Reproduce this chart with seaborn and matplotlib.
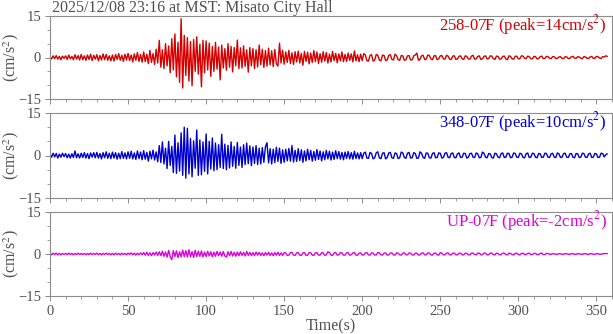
import numpy as np
import pandas as pd
import matplotlib
matplotlib.use("Agg")
import matplotlib.pyplot as plt
import seaborn as sns
from matplotlib.ticker import MultipleLocator

TITLE = "2025/12/08 23:16 at MST: Misato City Hall"
SAMPLE_INTERVAL = 1.0  # seconds between samples

channels = ["258-07F", "348-07F", "UP-07F"]
colors = ["#d40000", "#0000cc", "#dd00dd"]

# Acceleration records (cm/s^2), one sample per second
acc_258 = [
    0.3, -0.5, 0.6, -0.4, 0.7, -0.6, 0.4, -0.8, 0.5, -0.3,
    0.6, -0.7, 0.9, -0.5, 0.4, -0.8, 1.0, -0.6, 0.7, -0.9,
    1.1, -0.8, 0.6, -1.0, 0.9, -0.7, 1.2, -1.1, 0.8, -0.6,
    1.0, -1.2, 0.7, -0.9, 1.3, -0.8, 1.1, -1.0, 0.6, -1.2,
    0.9, -1.3, 1.1, -0.7, 1.4, -1.0, 0.8, -1.4, 1.2, -0.9,
    1.5, -1.1, 0.9, -1.6, 1.3, -1.0, 1.8, -1.4, 1.1, -1.7,
    2.0, -1.5, 1.2, -2.2, 2.6, -1.8, 1.4, -2.5, 3.0, -2.0,
    6.2, -3.5, 2.8, -4.0, 5.0, -3.0, 4.2, -5.5, 6.8, -4.5,
    8.5, -7.0, 5.5, -9.0, 14.0, -11.0, 8.0, -6.5, 7.2, -8.5,
    5.8, -10.2, 6.5, -5.0, 7.5, -6.0, 4.8, -10.6, 6.2, -5.5,
    6.0, -4.5, 5.2, -6.8, 4.0, -5.0, 5.5, -4.2, 3.8, -8.1,
    4.5, -3.8, 3.2, -4.6, 5.0, -3.5, 4.0, -5.2, 3.6, -3.0,
    6.3, -4.0, 3.5, -3.8, 4.2, -3.2, 2.8, -5.3, 3.6, -3.0,
    3.2, -4.0, 2.8, -3.4, 4.5, -2.6, 3.0, -3.6, 2.5, -3.1,
    3.4, -2.7, 2.4, -3.3, 2.9, -2.2, -3.1, 5.2, -2.0, 2.6,
    -2.4, 2.0, -1.8, 2.6, -2.2, 1.7, -2.5, 2.1, -1.6, 2.3,
    -2.0, 1.5, -2.8, 2.2, -1.4, 1.9, -2.3, 1.6, -1.8, 2.5,
    -1.5, 2.0, -2.2, 1.4, -1.7, 2.1, -1.3, 1.8, -2.0, 1.2,
    -1.6, 2.2, -1.1, 1.5, -1.9, 1.3, -1.2, 2.0, -1.5, 1.1,
    -1.4, 1.6, -1.0, 1.3, -1.6, 2.4, -1.2, 1.0, -1.5, 1.2,
    -1.1, 1.4, 0.9, -1.2, -1.3, 0.8, 1.0, -1.3, -0.9, 1.1,
    0.8, -1.0, -1.2, 0.9, 0.7, -1.1, -0.9, 0.8, 1.0, -0.7,
    -0.9, 1.2, 0.7, -0.8, -1.0, 0.7, 0.6, -1.0, -0.8, 0.6,
    0.7, -0.9, -0.8, 0.6, 0.9, 1.6, -1.0, -0.7, 0.6, 0.8,
    -0.7, -0.6, 0.9, 0.7, -0.5, -0.8, 0.6, 0.7, -0.8, -0.5,
    0.6, 0.7, -0.5, -0.6, 0.8, 0.5, -0.6, -0.7, 0.5, 0.6,
    -0.7, -0.5, 0.4, 0.6, -0.5, -0.7, 0.6, 0.4, -0.5, -0.6,
    0.5, 0.8, -0.6, -0.5, 0.4, 0.6, -0.7, -0.5, 0.4, 0.6,
    -0.5, -0.4, 0.6, 0.5, -0.4, -0.7, 0.5, 0.4, -0.6, -0.5,
    0.4, 0.5, -0.5, -0.8, 0.6, 0.4, -0.5, -0.6, 0.4, 0.5,
    -0.5, -0.4, 0.6, 0.5, -0.3, -0.4, 0.5, 0.3, -0.4, -0.5,
    0.4, 0.3, -0.5, -0.4, 0.3, 0.5, -0.4, -0.3, 0.4, 0.3,
    -0.3, -0.4, 0.3, 0.3, -0.4, -0.3, 0.2, 0.3, -0.3, -0.4,
    0.3, 0.2, -0.4, -0.3, 0.3, 0.4, -0.2, -0.3, 0.3, 0.2,
    -0.3, -0.4, 0.3, 0.2, -0.3, -0.3, 0.2, 0.4, -0.3, -0.3,
    0.4, 0.3, -0.2, -0.4, 0.3, 0.2, 0.6, 0.4,
]

acc_348 = [
    0.4, -0.6, 0.8, -0.5, 0.7, -0.9, 0.5, -0.6, 0.8, -0.4,
    0.7, -0.8, 0.5, -0.9, 0.6, -0.7, 1.6, -0.8, 0.6, -0.9,
    0.8, -0.7, 1.0, -0.9, 0.7, -1.1, 0.9, -0.6, 1.0, -0.8,
    1.1, -0.9, 0.7, -1.2, 1.0, -0.8, 1.3, -1.0, 0.8, -1.1,
    1.2, -0.9, 1.0, -1.3, 0.8, -1.1, 1.4, -1.0, 0.9, -1.2,
    1.3, -1.0, 1.5, -1.2, 0.9, -1.4, 1.6, -1.1, 1.2, -1.5,
    1.7, -1.3, 1.1, -2.0, 1.5, -1.2, 1.9, -1.6, 1.3, -2.2,
    3.5, -2.5, 4.8, -3.0, 2.6, -4.6, 5.0, -3.5, 3.2, -6.0,
    7.2, -6.3, 4.5, -5.5, 8.0, -7.0, 10.0, -8.0, 9.6, -6.5,
    6.0, -7.5, 5.2, -4.5, 9.0, -7.0, 5.5, -6.8, 4.8, -5.6,
    7.6, -6.5, 5.0, -4.8, 6.2, -5.4, 4.4, -5.0, 3.8, -4.2,
    7.5, -4.6, 4.0, -5.0, 3.6, -4.4, 4.8, -3.8, 3.2, -4.5,
    4.6, -3.5, 3.0, -4.2, 3.8, -3.2, 4.4, -2.9, 3.4, -3.6,
    3.0, -2.8, 3.5, -3.2, 2.6, -3.0, 2.8, -2.4, 3.1, 4.5,
    -2.6, 2.4, -3.0, 2.2, -2.5, 2.9, -2.1, 2.6, -2.8, 2.0,
    -2.4, 2.2, -1.9, 2.5, -2.0, 3.5, -2.3, 1.8, -2.1, 2.4,
    -1.8, 2.0, -2.4, 1.6, -1.9, 2.2, -1.5, 1.8, -2.0, 1.4,
    -1.7, 2.1, -1.4, 1.6, -1.9, 1.3, -1.5, 1.8, -1.2, 1.5,
    -1.6, 1.2, -1.4, 1.7, -1.1, 1.4, -1.3, 1.1, -1.5, 1.2,
    -1.0, 1.4, -1.2, 1.0, -1.3, 1.5, -1.1, 0.9, -1.2, 1.0,
    -1.1, 0.8, 1.2, -0.9, -1.0, 1.1, 0.7, -1.2, -0.8, 1.0,
    1.3, -0.9, -1.1, 0.8, 1.0, -1.2, -0.7, 0.9, 1.1, -0.8,
    -1.0, 0.9, 0.7, -1.1, -0.8, 1.2, 0.9, -0.7, -1.0, 0.8,
    1.1, -0.9, -0.8, 1.0, 0.7, -1.0, -0.9, 1.3, 0.8, -0.7,
    -1.0, 0.9, 0.8, -0.8, -0.9, 0.7, 1.0, -0.8, -0.7, 0.9,
    0.8, -0.9, -0.7, 0.8, 1.0, -0.6, -0.8, 0.7, 0.9, -0.7,
    -0.8, 0.6, 0.9, -0.7, -0.6, 0.8, 0.7, -0.9, -0.6, 0.7,
    0.8, -0.6, -0.7, 0.9, 0.6, -0.8, -0.7, 1.2, 0.8, -0.6,
    -0.8, 0.7, 0.6, -0.7, -0.9, 0.8, 0.6, -0.6, -0.8, 0.7,
    0.9, -0.7, -0.6, 0.8, 0.7, -0.8, -0.6, 0.9, 0.7, -0.6,
    -0.7, 0.8, 0.6, -0.7, -0.8, 0.6, 0.9, -0.7, -0.6, 0.8,
    0.7, -0.6, -0.8, 0.7, 0.6, -0.7, -0.6, 0.8, 0.7, -0.6,
    -0.7, 0.6, 0.8, -0.6, -0.7, 0.9, 0.6, -0.7, -0.6, 0.7,
    0.8, -0.6, -0.7, 0.6, 0.7, -0.6, -0.8, 0.7, 0.6, -0.7,
    -0.6, 0.8, 0.7, -0.6, -0.7, 0.6, 0.8, -0.7, -0.6, 0.7,
    0.6, -0.7, -0.6, 0.8, 0.7, -0.5, 0.3, 0.6,
]

acc_up = [
    0.2, -0.3, 0.3, -0.2, 0.3, -0.3, 0.2, -0.3, 0.2, -0.2,
    0.2, -0.2, 0.3, -0.2, 0.2, -0.3, 0.2, -0.2, 0.3, -0.2,
    0.2, -0.2, 0.2, -0.3, 0.2, -0.2, 0.3, -0.2, 0.2, -0.2,
    0.3, -0.2, 0.2, -0.3, 0.2, -0.2, 0.3, -0.2, 0.2, -0.3,
    0.2, -0.3, 0.3, -0.2, 0.2, -0.3, 0.3, -0.2, 0.2, -0.3,
    0.3, -0.2, 0.4, -0.3, 0.3, -0.4, 0.3, -0.3, 0.4, -0.3,
    0.5, -0.4, 0.6, -0.5, 0.4, -0.6, 0.5, -0.4, 0.7, -0.5,
    0.8, -0.6, 1.0, -0.8, 0.7, -1.1, 1.3, -1.0, -2.0, 1.2,
    -0.9, 1.1, -1.3, 0.8, -1.0, 1.4, -0.9, 1.2, -1.1, 1.5,
    -1.0, 0.8, -1.2, 1.3, -0.9, 1.0, -0.8, 1.1, -1.0, 0.7,
    -0.9, 1.0, -0.7, 0.8, -1.0, 0.6, -0.8, 0.9, -0.6, 0.7,
    -0.8, 0.9, -0.7, -1.1, 0.8, -0.6, 0.9, -0.7, 0.6, -0.8,
    0.7, -0.6, 0.8, -0.5, 0.6, -0.7, 0.9, -0.5, 0.6, -0.6,
    0.5, -0.6, 0.7, -0.4, 0.6, -0.5, 0.4, -0.6, 0.5, -0.4,
    0.6, -0.5, 0.4, -0.6, 0.5, -0.4, 0.6, -0.5, 0.4, -0.5,
    0.5, 0.4, -0.5, -0.4, 0.5, 0.6, -0.4, -0.5, 0.4, 0.5,
    -0.4, -0.5, 0.4, 0.5, -0.5, -0.4, 0.5, 0.4, -0.4, -0.5,
    0.4, 0.5, -0.4, -0.4, 0.5, 0.4, -0.5, -0.3, 0.8, 0.5,
    -0.4, -0.5, 0.4, 0.5, -0.4, -0.3, 0.5, 0.4, -0.4, -0.4,
    0.4, 0.5, -0.4, -0.3, 0.4, 0.5, -0.4, -0.4, 0.3, 0.4,
    -0.4, -0.3, 0.4, 0.5, -0.3, -0.4, 0.4, 0.3, -0.4, -0.3,
    0.5, 0.4, -0.3, -0.4, 0.3, 0.4, -0.4, -0.3, 0.3, 0.4,
    -0.3, -0.4, 0.4, 0.3, -0.3, -0.4, 0.3, 0.4, -0.3, -0.3,
    0.4, 0.3, -0.3, -0.4, 0.3, 0.3, -0.4, -0.3, 0.3, 0.4,
    -0.3, -0.3, 0.4, 0.3, -0.3, -0.4, 0.3, 0.3, -0.3, -0.4,
    0.5, 0.3, -0.3, -0.3, 0.3, 0.4, -0.3, -0.3, 0.3, 0.3,
    -0.3, -0.3, 0.3, 0.3, -0.3, -0.3, 0.3, 0.2, -0.3, -0.3,
    0.3, 0.3, -0.2, -0.3, 0.3, 0.3, -0.3, -0.2, 0.3, 0.3,
    -0.3, -0.2, 0.3, 0.3, -0.2, -0.3, 0.3, 0.2, -0.3, -0.2,
    0.3, 0.3, -0.2, -0.3, 0.3, 0.2, -0.2, -0.3, 0.2, 0.3,
    -0.2, -0.3, 0.2, 0.3, -0.2, -0.2, 0.2, 0.3, -0.2, -0.2,
    0.2, 0.2, -0.2, -0.2, 0.2, 0.3, -0.2, -0.2, 0.2, 0.2,
    -0.1, -0.1, 0.1, 0.1, -0.1, -0.1, 0.1, 0.1, -0.1, -0.1,
    0.1, 0.1, -0.1, -0.1, 0.1, 0.1, -0.1, -0.1, 0.1, 0.1,
    -0.1, -0.1, 0.1, 0.1, -0.1, -0.1, 0.1, 0.1, -0.1, -0.1,
    0.1, 0.1, -0.1, -0.1, 0.1, 0.1, 0.2, 0.1,
]

records = [acc_258, acc_348, acc_up]

TEXT_GRAY = "#505050"
SPINE_GRAY = "#8c8c8c"

sns.set_style("ticks")
plt.rcParams["font.family"] = ["Liberation Serif", "DejaVu Serif"]
plt.rcParams["mathtext.fontset"] = "stix"
plt.rcParams["text.color"] = TEXT_GRAY
plt.rcParams["axes.labelcolor"] = TEXT_GRAY
plt.rcParams["xtick.color"] = SPINE_GRAY
plt.rcParams["ytick.color"] = SPINE_GRAY
plt.rcParams["xtick.labelcolor"] = TEXT_GRAY
plt.rcParams["ytick.labelcolor"] = TEXT_GRAY

W, H = 613, 334
fig = plt.figure(figsize=(W / 100, H / 100), dpi=100)

# panel extents in pixels: (top, bottom)
panel_px = [(16, 99), (113, 198), (212, 296)]
left_px, right_px = 50, 612

for i, (name, color, acc) in enumerate(zip(channels, colors, records)):
    top, bottom = panel_px[i]
    ax = fig.add_axes([left_px / W, 1 - bottom / H,
                       (right_px - left_px) / W, (bottom - top) / H])
    values = np.asarray(acc, dtype=float)
    df = pd.DataFrame({"time": np.arange(len(values)) * SAMPLE_INTERVAL,
                       "acc": values})
    sns.lineplot(data=df, x="time", y="acc", ax=ax, color=color,
                 linewidth=1.0, estimator=None, sort=False)

    ax.set_xlim(0, 360)
    ax.set_ylim(-15, 15)
    ax.set_yticks([-15, 0, 15])
    ax.yaxis.set_minor_locator(MultipleLocator(5))
    ax.xaxis.set_major_locator(MultipleLocator(50))
    ax.xaxis.set_minor_locator(MultipleLocator(10))
    ax.tick_params(which="major", direction="out", length=3.5, width=0.7,
                   labelsize=10.5, pad=3)
    ax.tick_params(which="minor", direction="out", length=2, width=0.6)
    ax.set_ylabel("")
    for sp in ax.spines.values():
        sp.set_color(SPINE_GRAY)
        sp.set_linewidth(0.8)

    if i < 2:
        ax.tick_params(axis="x", labelbottom=False)
        ax.set_xlabel("")
    else:
        ax.set_xlabel("Time(s)", fontsize=11.5, labelpad=0)

    # channel name with the largest absolute acceleration of the record
    peak = values[np.argmax(np.abs(values))]
    ax.text(0.991, 1 - 14 / (bottom - top),
            f"{name} (peak={peak:.0f}cm/s$^2$)", transform=ax.transAxes,
            ha="right", va="baseline", color=color, fontsize=12)

    fig.text(11 / W, 1 - (top + bottom) / 2 / H, "(cm/s$^2$)", rotation=90,
             ha="center", va="center", fontsize=11.5, color=TEXT_GRAY)

fig.text(52 / W, 1 - 12 / H, TITLE, ha="left", va="baseline",
         fontsize=11.5, color=TEXT_GRAY)

fig.savefig("out.png", dpi=100)
